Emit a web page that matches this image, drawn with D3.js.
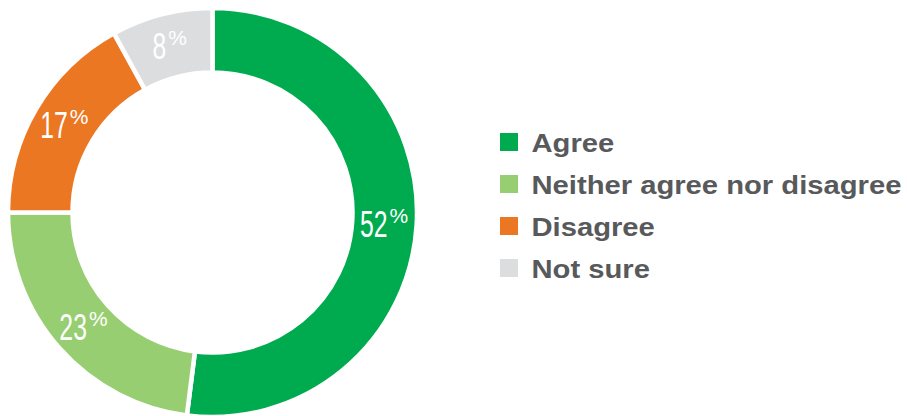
<!DOCTYPE html>
<html><head><meta charset="utf-8">
<script src="https://cdn.jsdelivr.net/npm/d3@7"></script>
<style>body{margin:0;background:#fff}svg{display:block}
text{font-family:"Liberation Sans", Arimo, Helvetica, Arial, sans-serif;}</style>
</head><body>
<svg id="c" width="907" height="416"></svg>
<script>
const categories = ["Agree", "Neither agree nor disagree", "Disagree", "Not sure"];
const values = [52, 23, 17, 8];
const colors = ["#00AB4F", "#98CE72", "#EC7723", "#DCDDDE"];

const svg = d3.select("#c");
const cx = 212.5, cy = 212.5, rOut = 204.5, rIn = 140;
const g = svg.append("g").attr("transform", `translate(${cx},${cy})`);
const pie = d3.pie().sort(null).value(d => d.v);
const data = pie(categories.map((c, i) => ({c, v: values[i], col: colors[i]})));
const arc = d3.arc().innerRadius(rIn).outerRadius(rOut);
g.selectAll("path").data(data).join("path")
  .attr("d", arc).attr("fill", d => d.data.col)
  .attr("stroke", "#fff").attr("stroke-width", 4.5);

const labArc = d3.arc().innerRadius(172).outerRadius(172);
const lab = g.selectAll("g.lab").data(data).join("g").attr("class", "lab")
  .attr("transform", d => { const [x, y] = labArc.centroid(d); return `translate(${x},${y})`; });
const sx = 0.66;
lab.each(function(d) {
  const gg = d3.select(this);
  const dg = gg.append("g");
  const num = dg.append("text").attr("fill", "#fff").attr("font-size", 37.5)
    .attr("y", 13.3).text(d.data.v);
  const pct = gg.append("text").attr("fill", "#fff").attr("font-size", 21).attr("y", -0.5).text("%");
  const w = num.node().getComputedTextLength() * sx;
  const p = pct.node().getComputedTextLength();
  const total = w + 2 + p;
  dg.attr("transform", `translate(${-total / 2},0) scale(${sx},1)`);
  pct.attr("x", -total / 2 + w + 2);
});

const lg = svg.append("g").attr("transform", "translate(500,133)");
const row = lg.selectAll("g").data(categories).join("g")
  .attr("transform", (d, i) => `translate(0,${i * 42})`);
row.append("rect").attr("width", 18).attr("height", 18).attr("fill", (d, i) => colors[i]);
const tg = row.append("g").attr("transform", "translate(31.5,0)");
const lt = tg.append("text").attr("y", 19)
  .attr("font-weight", "bold")
  .attr("font-size", 25).attr("fill", "#58595B").text(d => d);
const maxW = d3.max(lt.nodes(), n => n.getComputedTextLength());
const k = 370 / maxW;
tg.attr("transform", `translate(31.5,0) scale(${k},1)`);
</script>
</body></html>
